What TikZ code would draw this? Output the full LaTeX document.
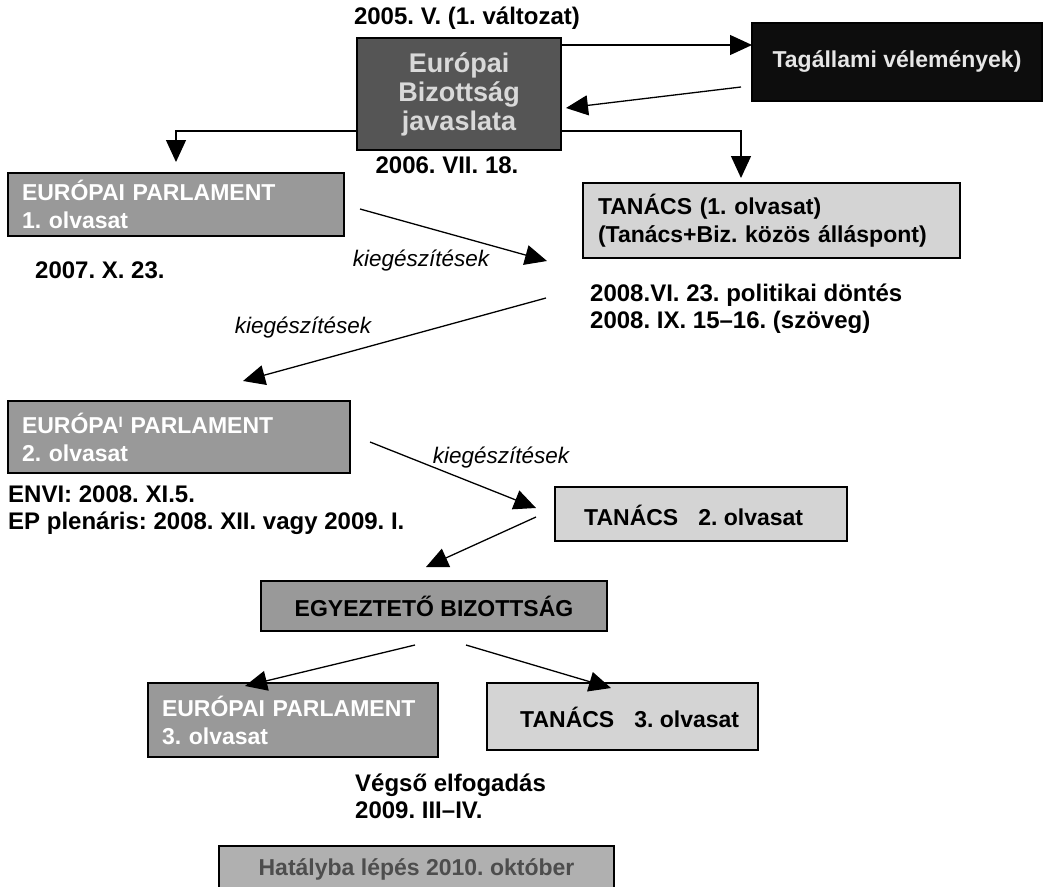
\documentclass[tikz,border=0pt]{standalone}
\usepackage{fontspec}
\setmainfont{Liberation Sans}
\usetikzlibrary{arrows.meta}
\definecolor{ebfill}{HTML}{555555}
\definecolor{ebtext}{HTML}{D9D9D9}
\definecolor{tagfill}{HTML}{0D0D0D}
\definecolor{tagtext}{HTML}{E6E6E6}
\definecolor{epfill}{HTML}{999999}
\definecolor{tfill}{HTML}{D4D4D4}
\definecolor{hfill}{HTML}{B0B0B0}
\definecolor{htext}{HTML}{4D4D4D}
\frenchspacing
\begin{document}
\begin{tikzpicture}[x=1pt,y=-1pt,
  font=\fontsize{23}{28}\selectfont\bfseries,
  box/.style={draw=black, line width=1.2pt, anchor=north west, inner ysep=0pt, outer sep=0pt},
  lbl/.style={inner sep=0pt, align=left, font=\fontsize{24}{27}\selectfont\bfseries},
  kieg/.style={inner sep=0pt, font=\fontsize{22.5}{26}\selectfont\mdseries\itshape},
  arr/.style={line width=1.3pt, -{Triangle[length=22pt,width=20pt]}}
]
\useasboundingbox (0,0) rectangle (1043,886);
\fill[white] (0,0) rectangle (1043,886);

% boxes
\node[box, fill=ebfill, text=ebtext, minimum width=204pt, minimum height=112pt, align=center,
      font=\fontsize{27}{29}\selectfont\bfseries] (eb) at (357,38) {Európai\\Bizottság\\javaslata};
\node[box, fill=tagfill, text=tagtext, minimum width=290pt, minimum height=78pt] (tag) at (752,23) {Tagállami vélemények)};
\node[box, fill=epfill, text=white, minimum height=63pt, text width=308pt, inner xsep=14pt, align=left] (ep1) at (8,173) {EURÓPAI PARLAMENT\\1. olvasat};
\node[box, fill=tfill, minimum height=75pt, text width=347pt, inner xsep=15pt, align=left] (t1) at (583,183) {TANÁCS (1. olvasat)\\(Tanács+Biz. közös álláspont)};
\node[box, fill=epfill, text=white, minimum height=72pt, text width=314pt, inner xsep=14pt, align=left] (ep2) at (8,401) {EURÓPA\raisebox{6pt}{\fontsize{15}{15}\selectfont I} PARLAMENT\\2. olvasat};
\node[box, fill=tfill, minimum width=292pt, minimum height=54pt] (t2) at (555,487) {};
\node[lbl, anchor=west, font=\fontsize{23}{28}\selectfont\bfseries] (t2txt) at (584,515) {TANÁCS\hspace{20pt}2. olvasat};
\node[box, fill=epfill, minimum width=346pt, minimum height=50pt] (egy) at (261,581) {EGYEZTETŐ BIZOTTSÁG};
\node[box, fill=epfill, text=white, minimum height=74pt, text width=262pt, inner xsep=14pt, align=left] (ep3) at (148,683) {EURÓPAI PARLAMENT\\3. olvasat};
\node[box, fill=tfill, minimum width=271pt, minimum height=67pt] (t3) at (487,683) {};
\node[lbl, anchor=west, font=\fontsize{23}{28}\selectfont\bfseries] (t3txt) at (520,717) {TANÁCS\hspace{20pt}3. olvasat};
\node[box, fill=hfill, text=htext, minimum width=395pt, minimum height=46pt] (hat) at (219,846) {Hatályba lépés 2010. október};

% labels
\node[lbl] (d2005) at (467,18) {2005. V. (1. változat)};
\node[lbl] (d2006) at (447,165) {2006. VII. 18.};
\node[lbl, anchor=west] (d2007) at (35,270) {2007. X. 23.};
\node[lbl, anchor=west] (d2008) at (590,309) {2008.VI. 23. politikai döntés\\2008. IX. 15–16. (szöveg)};
\node[lbl, anchor=west] (denvi) at (8,510) {ENVI: 2008. XI.5.\\EP plenáris: 2008. XII. vagy 2009. I.};
\node[lbl, anchor=west] (dvegso) at (355,796) {Végső elfogadás\\2009. III–IV.};
\node[kieg] (k1) at (421,261) {kiegészítések};
\node[kieg] (k2) at (303,328) {kiegészítések};
\node[kieg] (k3) at (501,458) {kiegészítések};

% connector points
\coordinate (c1) at (176,131);
\coordinate (c1e) at (176,162);
\coordinate (c2) at (741,131);
\coordinate (c2e) at (741,178);
\coordinate (c3) at (0,45);
\coordinate (c4s) at (741,87);
\coordinate (c4e) at (566,108);
\coordinate (a1s) at (360,209);
\coordinate (a1e) at (547,261);
\coordinate (a2s) at (546,298);
\coordinate (a2e) at (243,381);
\coordinate (a3s) at (370,442);
\coordinate (a3e) at (536,508);
\coordinate (a4s) at (536,517);
\coordinate (a4e) at (426,567);
\coordinate (a5s) at (415,645);
\coordinate (a5e) at (245,686);
\coordinate (a6s) at (466,645);
\coordinate (a6e) at (611,688);

% connectors
\draw[arr] (eb.west |- c1) -- (c1) -- (c1e);
\draw[arr] (eb.east |- c2) -- (c2) -- (c2e);
\draw[arr] (eb.east |- c3) -- (tag.west |- c3);
\draw[arr] (c4s) -- (c4e);
\draw[arr] (a1s) -- (a1e);
\draw[arr] (a2s) -- (a2e);
\draw[arr] (a3s) -- (a3e);
\draw[arr] (a4s) -- (a4e);
\draw[arr] (a5s) -- (a5e);
\draw[arr] (a6s) -- (a6e);
\end{tikzpicture}
\end{document}
